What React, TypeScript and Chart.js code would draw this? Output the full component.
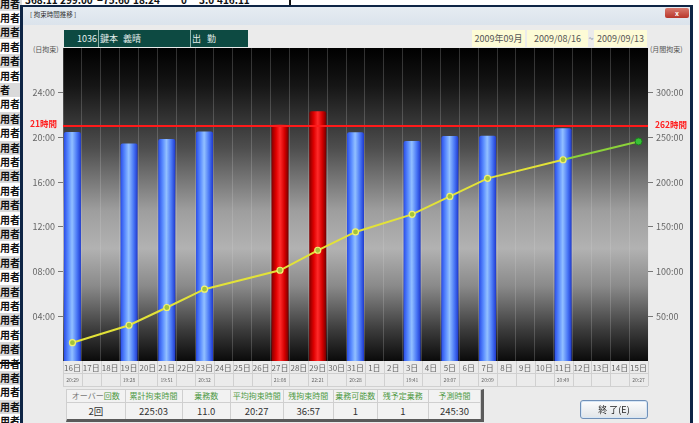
import React, { useEffect, useRef } from 'react';
import { Chart, registerables } from 'chart.js';

Chart.register(...registerables);

const FONT = '"Noto Sans CJK JP", "Noto Sans", sans-serif';

// ---- data ----
const categories = [
  '16日', '17日', '18日', '19日', '20日', '21日', '22日', '23日', '24日', '25日', '26日',
  '27日', '28日', '29日', '30日', '31日', '1日', '2日', '3日', '4日', '5日', '6日', '7日',
  '8日', '9日', '10日', '11日', '12日', '13日', '14日', '15日',
];

const dailyRestraint: (string | null)[] = [
  '20:29', null, null, '19:28', null, '19:51', null, '20:32', null, null, null,
  '21:08', null, '22:21', null, '20:28', null, null, '19:41', null, '20:07', null, '20:09',
  null, null, null, '20:49', null, null, null, null,
];

const cumulativeRestraint: (string | null)[] = [
  '20:29', null, null, '39:57', null, '59:48', null, '80:20', null, null, null,
  '101:28', null, '123:49', null, '144:17', null, null, '163:58', null, '184:05', null, '204:14',
  null, null, null, '225:03', null, null, null, null,
];

const predictedRestraint: (string | null)[] = [
  null, null, null, null, null, null, null, null, null, null, null,
  null, null, null, null, null, null, null, null, null, null, null, null,
  null, null, null, '225:03', null, null, null, '245:30',
];

const averageRestraint = '20:27';
const leftTickHours = [4, 8, 12, 16, 20, 24];
const rightTickHours = [50, 100, 150, 200, 250, 300];
const leftAxisMax = 28;
const rightAxisMax = 350;
const dailyLimitHours = 21;
const monthlyLimitHours = 262;

const summaryHeaders = ['オーバー回数', '累計拘束時間', '乗務数', '平均拘束時間', '残拘束時間', '乗務可能数', '残予定乗務', '予測時間'];
const summaryValues = ['2回', '225:03', '11.0', '20:27', '36:57', '1', '1', '245:30'];

const topRowValues = ['368:11', '299:00', '−75:60', '18:24', '0', '3.0', '416:11'];

const toHours = (t: string | null) => {
  if (!t) return null;
  const [h, m] = t.split(':').map(Number);
  return h + m / 60;
};
const hhmm = (v: number) => `${String(v).padStart(2, '0')}:00`;

function barFill(ctx: any) {
  const chart = ctx.chart;
  const v = ctx.raw as number | null;
  const over = v != null && v > dailyLimitHours;
  if (!chart.chartArea || ctx.dataIndex == null) return over ? '#e00000' : '#4a78f0';
  const x = chart.scales.x.getPixelForValue(ctx.dataIndex);
  const w = 9;
  const g = chart.ctx.createLinearGradient(x - w, 0, x + w, 0);
  if (over) {
    g.addColorStop(0, '#780000');
    g.addColorStop(0.28, '#e00000');
    g.addColorStop(0.5, '#ff2a2a');
    g.addColorStop(0.75, '#d40000');
    g.addColorStop(1, '#6a0000');
  } else {
    g.addColorStop(0, '#2446e6');
    g.addColorStop(0.28, '#5c8eff');
    g.addColorStop(0.48, '#92c0ff');
    g.addColorStop(0.75, '#4a78f6');
    g.addColorStop(1, '#1a32c8');
  }
  return g;
}

const framePlugin = {
  id: 'frame',
  beforeDraw(chart: any) {
    const { ctx, chartArea: a } = chart;
    const g = ctx.createLinearGradient(0, a.top, 0, a.bottom);
    g.addColorStop(0, '#000000');
    g.addColorStop(0.12, '#151515');
    g.addColorStop(0.32, '#4e4e4e');
    g.addColorStop(0.52, '#9e9e9e');
    g.addColorStop(0.64, '#b2b2b2');
    g.addColorStop(0.76, '#8a8a8a');
    g.addColorStop(0.9, '#3c3c3c');
    g.addColorStop(1, '#0a0a0a');
    ctx.save();
    ctx.fillStyle = g;
    ctx.fillRect(a.left, a.top, a.right - a.left, a.bottom - a.top);
    const xs = chart.scales.x;
    ctx.strokeStyle = '#d0d0d0';
    ctx.lineWidth = 1;
    for (let i = 0; i <= categories.length; i++) {
      const px = Math.round(xs.getPixelForValue(i - 0.5)) + 0.5;
      ctx.beginPath();
      ctx.moveTo(px, a.bottom);
      ctx.lineTo(px, a.bottom + 25);
      ctx.stroke();
    }
    [12.5, 25.5].forEach((dy) => {
      ctx.beginPath();
      ctx.moveTo(a.left, Math.round(a.bottom) + dy);
      ctx.lineTo(a.right, Math.round(a.bottom) + dy);
      ctx.stroke();
    });
    ctx.restore();
  },
  afterDatasetsDraw(chart: any) {
    const { ctx, chartArea: a, scales } = chart;
    const y = Math.round(scales.y.getPixelForValue(dailyLimitHours));
    ctx.save();
    ctx.strokeStyle = '#ff1a1a';
    ctx.lineWidth = 2;
    ctx.beginPath();
    ctx.moveTo(a.left, y);
    ctx.lineTo(a.right, y);
    ctx.stroke();
    ctx.font = `bold 8.5px ${FONT}`;
    ctx.fillStyle = '#ff2020';
    ctx.textBaseline = 'middle';
    ctx.textAlign = 'right';
    ctx.fillText(`${dailyLimitHours}時間`, a.left - 6, y - 2);
    const y2 = scales.y2.getPixelForValue(monthlyLimitHours);
    ctx.textAlign = 'left';
    ctx.fillText(`${monthlyLimitHours}時間`, a.right + 7, y2 - 2);

    const xs = scales.x;
    ctx.font = `5px ${FONT}`;
    ctx.fillStyle = '#666';
    ctx.textAlign = 'center';
    for (let i = 0; i < categories.length; i++) {
      const t = i === categories.length - 1 ? averageRestraint : dailyRestraint[i];
      if (t) ctx.fillText(t, xs.getPixelForValue(i), a.bottom + 19);
    }
    ctx.restore();
  },
};

function ChartCanvas() {
  const ref = useRef<HTMLCanvasElement>(null);
  useEffect(() => {
    const canvas = ref.current!;
    const last = categories.length - 1;
    const chart = new Chart(canvas, {
      type: 'bar',
      data: {
        labels: categories,
        datasets: [
          {
            type: 'line',
            label: '累計',
            data: cumulativeRestraint.map(toHours),
            yAxisID: 'y2',
            borderColor: '#e2e238',
            borderWidth: 2,
            spanGaps: true,
            pointRadius: 3,
            pointBackgroundColor: '#a4c43a',
            pointBorderColor: '#f2f270',
            pointBorderWidth: 1.2,
            order: 0,
          } as any,
          {
            type: 'line',
            label: '予測',
            data: predictedRestraint.map(toHours),
            yAxisID: 'y2',
            borderColor: '#8cd23a',
            borderWidth: 2,
            spanGaps: true,
            pointRadius: (c: any) => (c.dataIndex === last ? 3.5 : 0),
            pointBackgroundColor: '#38c038',
            pointBorderColor: '#1c801c',
            pointBorderWidth: 1,
            order: 1,
          } as any,
          {
            type: 'bar',
            label: '拘束時間',
            data: dailyRestraint.map(toHours),
            yAxisID: 'y',
            backgroundColor: barFill,
            barPercentage: 0.9,
            categoryPercentage: 1,
            borderRadius: { topLeft: 2, topRight: 2, bottomLeft: 0, bottomRight: 0 },
            borderSkipped: 'bottom',
            order: 2,
          } as any,
        ],
      },
      options: {
        responsive: false,
        animation: false,
        devicePixelRatio: 1,
        layout: { padding: { left: 22, right: 10, top: 48, bottom: 36 } },
        plugins: { legend: { display: false }, tooltip: { enabled: false } },
        scales: {
          x: {
            offset: true,
            grid: { display: true, drawOnChartArea: true, drawTicks: false, color: 'rgba(215,215,215,0.22)', offset: true },
            border: { display: false },
            ticks: { autoSkip: false, maxRotation: 0, minRotation: 0, padding: 2, color: '#666', font: { family: FONT, size: 8 } },
            afterFit: (s: any) => { s.height = 26; },
          },
          y: {
            position: 'left',
            min: 0,
            max: leftAxisMax,
            afterBuildTicks: (s: any) => { s.ticks = leftTickHours.map((v) => ({ value: v })); },
            ticks: { callback: (v: any) => hhmm(Number(v)), color: '#666', padding: 3, font: { family: FONT, size: 9 } },
            grid: { drawOnChartArea: false, drawTicks: true, tickLength: 5, color: '#777' },
            border: { display: false },
            afterFit: (s: any) => { s.width = 41; },
          },
          y2: {
            position: 'right',
            min: 0,
            max: rightAxisMax,
            afterBuildTicks: (s: any) => { s.ticks = rightTickHours.map((v) => ({ value: v })); },
            ticks: { callback: (v: any) => `${v}:00`, color: '#666', padding: 3, font: { family: FONT, size: 9 } },
            grid: { drawOnChartArea: false, drawTicks: true, tickLength: 5, color: '#777' },
            border: { display: false },
            afterFit: (s: any) => { s.width = 41; },
          },
        },
      } as any,
      plugins: [framePlugin],
    });
    return () => chart.destroy();
  }, []);
  return (
    <canvas
      ref={ref}
      width={699}
      height={423}
      style={{ position: 'absolute', left: 0, top: 0, width: 699, height: 423, zIndex: 3 }}
    />
  );
}

const abs = (s: React.CSSProperties): React.CSSProperties => ({ position: 'absolute', ...s });

export default function App() {
  useEffect(() => {
    document.body.style.margin = '0';
  }, []);
  const rows = Array.from({ length: 30 }, (_, k) => k);
  const colWidths = [58, 57, 48, 53, 50, 44, 51, 52];
  const topXs = [25, 60, 97, 133, 181, 199, 217];
  return (
    <div style={{ position: 'fixed', left: 0, top: 0, width: 699, height: 423, overflow: 'hidden', background: '#fff', fontFamily: FONT }}>
      {/* background list strip */}
      {rows.map((k) => (
        <div key={k} style={abs({ left: 0, top: k * 14.4 - 3.5, width: 22, height: 14, background: k % 2 ? '#ffffff' : '#dadada', fontSize: 10, fontWeight: 'bold', lineHeight: '14px', color: '#111', whiteSpace: 'nowrap', overflow: 'hidden' })}>
          {k === 6 ? '者' : '用者'}
        </div>
      ))}
      <div style={abs({ left: 0, top: 362, width: 22, height: 2, background: '#111' })} />
      {topRowValues.map((t, i) => (
        <div key={i} style={abs({ left: topXs[i], top: -6, fontSize: 10, fontWeight: 'bold', color: '#111', lineHeight: '12px' })}>{t}</div>
      ))}
      <div style={abs({ left: 289, top: 0, width: 2, height: 6, background: '#111' })} />

      {/* window */}
      <div style={abs({ left: 20, top: 5, width: 667, height: 440, background: '#ebebeb', borderLeft: '3px solid #0e2545', borderRight: '3px solid #0e2545', borderTop: '2px solid #0e2545' })} />
      <div style={abs({ left: 23, top: 7, width: 667, height: 18, background: 'linear-gradient(#e6ecf2, #dbe3ec)' })} />
      <div style={abs({ left: 30, top: 10, fontSize: 6.5, color: '#333', lineHeight: '9px' })}>[ 拘束時間推移 ]</div>
      <div style={abs({ left: 665, top: 8, width: 24, height: 10, borderRadius: 2, background: 'linear-gradient(#d97a6e, #b8362a)', color: '#fff', fontSize: 7, lineHeight: '10px', textAlign: 'center', fontWeight: 'bold' })}>x</div>

      {/* info box */}
      <div style={abs({ left: 64, top: 30, width: 184, height: 17, background: '#0d4a42' })} />
      <div style={abs({ left: 98, top: 30, width: 1, height: 17, background: '#8fb4aa' })} />
      <div style={abs({ left: 190, top: 30, width: 1, height: 17, background: '#8fb4aa' })} />
      <div style={abs({ left: 77, top: 32, fontSize: 9, color: '#e4eeec', lineHeight: '13px' })}>1036</div>
      <div style={abs({ left: 100, top: 32, fontSize: 9, color: '#e4eeec', lineHeight: '13px' })}>鍵本</div>
      <div style={abs({ left: 123, top: 32, fontSize: 9, color: '#e4eeec', lineHeight: '13px' })}>義晴</div>
      <div style={abs({ left: 192, top: 32, fontSize: 9, color: '#e4eeec', lineHeight: '13px' })}>出</div>
      <div style={abs({ left: 207, top: 32, fontSize: 9, color: '#e4eeec', lineHeight: '13px' })}>勤</div>

      {/* date boxes */}
      <div style={abs({ left: 472, top: 30, width: 53, height: 17, background: '#fdfbd6', fontSize: 9, color: '#555', lineHeight: '17px', textAlign: 'center' })}>2009年09月</div>
      <div style={abs({ left: 527, top: 30, width: 61, height: 17, background: '#fdfbd6', fontSize: 9, color: '#555', lineHeight: '17px', textAlign: 'center' })}>2009/08/16</div>
      <div style={abs({ left: 588, top: 30, width: 6, fontSize: 9, color: '#6a7a9a', lineHeight: '17px', textAlign: 'center' })}>~</div>
      <div style={abs({ left: 594, top: 30, width: 53, height: 17, background: '#fdfbd6', fontSize: 9, color: '#555', lineHeight: '17px', textAlign: 'center' })}>2009/09/13</div>

      <div style={abs({ left: 33, top: 45, fontSize: 7, color: '#555', lineHeight: '9px' })}>(日拘束)</div>
      <div style={abs({ left: 650, top: 45, fontSize: 7, color: '#555', lineHeight: '9px' })}>(月間拘束)</div>

      <ChartCanvas />

      {/* summary table */}
      <div style={abs({ left: 66, top: 389, width: 414, height: 29, borderTop: '1px solid #cfcfcf', borderLeft: '1px solid #cfcfcf', borderRight: '3px solid #5a5a5a', borderBottom: '3px solid #5a5a5a', background: '#f2f2f2', zIndex: 4 })}>
        <table style={{ borderCollapse: 'collapse', width: 414, tableLayout: 'fixed' }}>
          <colgroup>
            {colWidths.map((w, i) => <col key={i} style={{ width: w }} />)}
          </colgroup>
          <tbody>
            <tr>
              {summaryHeaders.map((h, i) => (
                <td key={i} style={{ fontSize: 8, color: '#4f9a45', textAlign: 'center', padding: 0, height: 12, lineHeight: '12px', borderRight: '1px solid #cfcfcf', borderBottom: '1px solid #cfcfcf', whiteSpace: 'nowrap', overflow: 'hidden' }}>
                  {i === 0 ? (<><span style={{ color: '#777' }}>オーバー</span>回数</>) : h}
                </td>
              ))}
            </tr>
            <tr>
              {summaryValues.map((v, i) => (
                <td key={i} style={{ fontSize: 9.5, color: '#333', textAlign: 'center', padding: 0, height: 16, lineHeight: '16px', borderRight: '1px solid #cfcfcf' }}>{v}</td>
              ))}
            </tr>
          </tbody>
        </table>
      </div>

      {/* close button */}
      <div style={abs({ left: 580, top: 400, width: 66, height: 17, border: '1px solid #7090b8', borderRadius: 3, background: 'linear-gradient(#fdfdfd, #e0e4e8)', boxShadow: 'inset 0 0 0 1px #d6e6f6', fontSize: 9, color: '#222', lineHeight: '17px', textAlign: 'center', zIndex: 4 })}>終 了(E)</div>
    </div>
  );
}
